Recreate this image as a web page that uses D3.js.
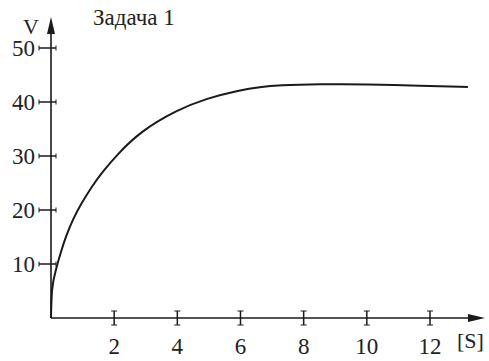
<!DOCTYPE html>
<html>
<head>
<meta charset="utf-8">
<script src="https://cdn.jsdelivr.net/npm/d3@7"></script>
<style>
  body { margin: 0; background: #fff; }
  svg text { font-family: "Liberation Serif", "DejaVu Serif", serif; }
</style>
</head>
<body>
<svg id="chart" width="489" height="361"></svg>
<script>
// values
const timeS = [0, 0.02, 0.15, 0.3, 0.47, 0.71, 0.97, 1.29, 1.62, 2.1, 2.82, 3.98, 4.93, 5.98, 6.62, 7.2, 8.5, 10, 11.7, 13.2];
const velocity = [0, 5.8, 8.9, 12, 15.1, 18.5, 21.3, 24.3, 27.0, 30.3, 34.5, 38.5, 40.7, 42.2, 42.8, 43.1, 43.3, 43.3, 43.0, 42.8];
const xTicks = [2, 4, 6, 8, 10, 12];
const yTicks = [10, 20, 30, 40, 50];
const title = "Задача 1";
const yLabel = "V";
const xLabel = "[S]";

const svg = d3.select("#chart");
const ink = "#1a1a1a";

let x = d3.scaleLinear().domain([0, 12]).range([51, 430]);
let y = d3.scaleLinear().domain([0, 50]).range([318, 48]);

// axes
svg.append("line")
  .attr("x1", x(0)).attr("x2", 476)
  .attr("y1", y(0)).attr("y2", y(0))
  .attr("stroke", ink).attr("stroke-width", 1.6);
svg.append("line")
  .attr("x1", x(0)).attr("x2", x(0))
  .attr("y1", y(0)).attr("y2", 26)
  .attr("stroke", ink).attr("stroke-width", 1.6);

// arrow heads
svg.append("path")
  .attr("d", `M${x(0) - 4},34 L${x(0)},17 L${x(0) + 4},34 Z`)
  .attr("fill", ink);
svg.append("path")
  .attr("d", `M468,${y(0) - 4} L485,${y(0)} L468,${y(0) + 4} Z`)
  .attr("fill", ink);

// y ticks, small I-beam shape
let yt = svg.append("g").selectAll("g").data(yTicks).enter().append("g");
yt.append("line")
  .attr("x1", x(0) - 12).attr("x2", x(0) + 5)
  .attr("y1", (d) => y(d)).attr("y2", (d) => y(d))
  .attr("stroke", ink).attr("stroke-width", 1.5);
yt.append("line")
  .attr("x1", x(0) - 12).attr("x2", x(0) - 12)
  .attr("y1", (d) => y(d) - 2.5).attr("y2", (d) => y(d) + 2.5)
  .attr("stroke", ink).attr("stroke-width", 1);
yt.append("line")
  .attr("x1", x(0) + 5).attr("x2", x(0) + 5)
  .attr("y1", (d) => y(d) - 2.5).attr("y2", (d) => y(d) + 2.5)
  .attr("stroke", ink).attr("stroke-width", 1);
yt.append("text")
  .attr("x", 35)
  .attr("y", (d) => y(d) + 8)
  .attr("text-anchor", "end")
  .attr("font-size", 23)
  .attr("fill", "#222")
  .text((d) => d);

// x ticks
let xt = svg.append("g").selectAll("g").data(xTicks).enter().append("g");
xt.append("line")
  .attr("x1", (d) => x(d)).attr("x2", (d) => x(d))
  .attr("y1", y(0) - 7).attr("y2", y(0) + 7)
  .attr("stroke", ink).attr("stroke-width", 1.5);
xt.append("line")
  .attr("x1", (d) => x(d) - 3).attr("x2", (d) => x(d) + 3)
  .attr("y1", y(0) - 7).attr("y2", y(0) - 7)
  .attr("stroke", ink).attr("stroke-width", 1);
xt.append("line")
  .attr("x1", (d) => x(d) - 3).attr("x2", (d) => x(d) + 3)
  .attr("y1", y(0) + 7).attr("y2", y(0) + 7)
  .attr("stroke", ink).attr("stroke-width", 1);
xt.append("text")
  .attr("x", (d) => x(d))
  .attr("y", 354)
  .attr("text-anchor", "middle")
  .attr("font-size", 23)
  .attr("fill", "#222")
  .text((d) => d);

// labels
svg.append("text").attr("x", 23).attr("y", 34).attr("font-size", 22).attr("fill", "#222").text(yLabel);
svg.append("text").attr("x", 93).attr("y", 25).attr("font-size", 23).attr("fill", "#222").text(title);
svg.append("text").attr("x", 457).attr("y", 348).attr("font-size", 22).attr("fill", "#222").text(xLabel);

// curve, smoothed like the hand-drawn original
let pts = timeS.map((t, i) => [t, velocity[i]]);
let line = d3.line()
  .x((d) => x(d[0]))
  .y((d) => y(d[1]))
  .curve(d3.curveBasis);
svg.append("path")
  .datum(pts)
  .attr("d", line)
  .attr("fill", "none")
  .attr("stroke", ink)
  .attr("stroke-width", 2);
</script>
</body>
</html>
